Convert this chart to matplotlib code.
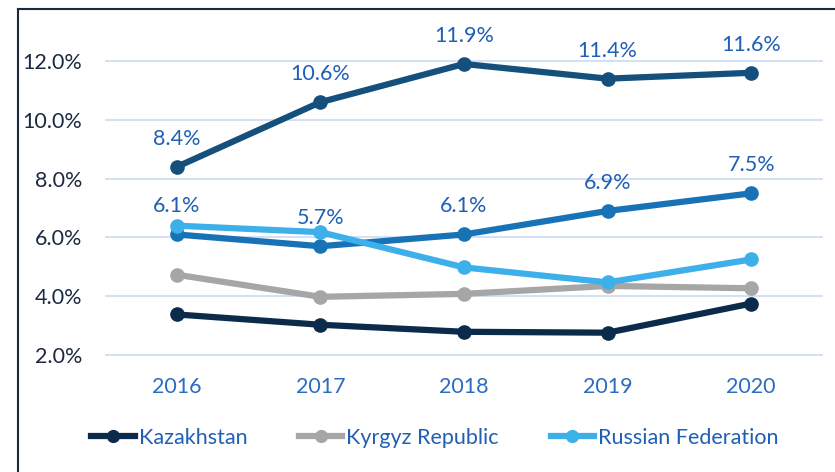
import matplotlib
matplotlib.use("Agg")
import matplotlib.pyplot as plt
from matplotlib.lines import Line2D

plt.rcParams['font.family'] = ['Lato', 'DejaVu Sans']

years = [2016, 2017, 2018, 2019, 2020]

# unlabelled series at the top (values shown as data labels)
top_series = [8.4, 10.6, 11.9, 11.4, 11.6]
mid_series = [6.1, 5.7, 6.1, 6.9, 7.5]

kazakhstan = [3.38, 3.03, 2.79, 2.76, 3.75]
kyrgyz = [4.73, 3.98, 4.08, 4.35, 4.27]
russia = [6.4, 6.18, 4.98, 4.47, 5.25]

yticks = [2, 4, 6, 8, 10, 12]

label_color = '#1F5FB4'
fs = 15.5

fig = plt.figure(figsize=(8.35, 4.72), dpi=100)
ax = fig.add_axes([105 / 835, 0.2167, (823 - 105) / 835, 0.933 - 0.2167])

ax.set_xlim(2015.5, 2020.5)
ax.set_ylim(1.5, 13.0)

lw = 4.5
ms = 9.5
ax.plot(years, top_series, color='#154F7B', lw=lw, marker='o', ms=ms, zorder=3)
ax.plot(years, mid_series, color='#1873B6', lw=lw, marker='o', ms=ms, zorder=3)
ax.plot(years, russia, color='#3DB0EA', lw=lw, marker='o', ms=ms, zorder=3,
        label='Russian Federation')
ax.plot(years, kyrgyz, color='#A6A6A6', lw=lw, marker='o', ms=ms, zorder=2,
        label='Kyrgyz Republic')
ax.plot(years, kazakhstan, color='#0C2B4B', lw=lw, marker='o', ms=ms, zorder=3,
        label='Kazakhstan')

for x, v in zip(years, top_series):
    ax.annotate(f'{v:.1f}%', (x, v), xytext=(0, 13), textcoords='offset points',
                ha='center', va='bottom', fontsize=fs, color=label_color)
for x, v in zip(years, mid_series):
    ax.annotate(f'{v:.1f}%', (x, v), xytext=(0, 13), textcoords='offset points',
                ha='center', va='bottom', fontsize=fs, color=label_color)

ax.set_yticks(yticks)
ax.set_yticklabels([f'{t:.1f}%' for t in yticks], fontsize=fs, color='#1B2A41')
ax.set_xticks(years)
ax.set_xticklabels([str(y) for y in years], fontsize=fs, color='#2A6CC2')
ax.tick_params(axis='y', length=0, pad=16.5)
ax.tick_params(axis='x', length=0, pad=5)
ax.grid(axis='y', color='#C9DCF5', lw=1.2)
ax.set_axisbelow(True)
for s in ax.spines.values():
    s.set_visible(False)

handles = [
    Line2D([], [], color='#0C2B4B', lw=lw, marker='o', ms=ms - 1),
    Line2D([], [], color='#A6A6A6', lw=lw, marker='o', ms=ms - 1),
    Line2D([], [], color='#3DB0EA', lw=lw, marker='o', ms=ms - 1),
]
leg = fig.legend(handles, ['Kazakhstan', 'Kyrgyz Republic', 'Russian Federation'],
                 loc='center', bbox_to_anchor=(435 / 835, 1 - 438 / 472), ncol=3,
                 frameon=False, fontsize=fs, handlelength=2.0, handletextpad=0.2,
                 columnspacing=2.4)
for t in leg.get_texts():
    t.set_color(label_color)

# frame around chart (left and top edges visible)
fig.add_artist(Line2D([18 / 835, 18 / 835], [0, 1 - 9 / 472], color='#1B2A41', lw=1.5))
fig.add_artist(Line2D([18 / 835, 1], [1 - 9 / 472, 1 - 9 / 472], color='#1B2A41', lw=1.5))

fig.savefig('out.png', dpi=100)
